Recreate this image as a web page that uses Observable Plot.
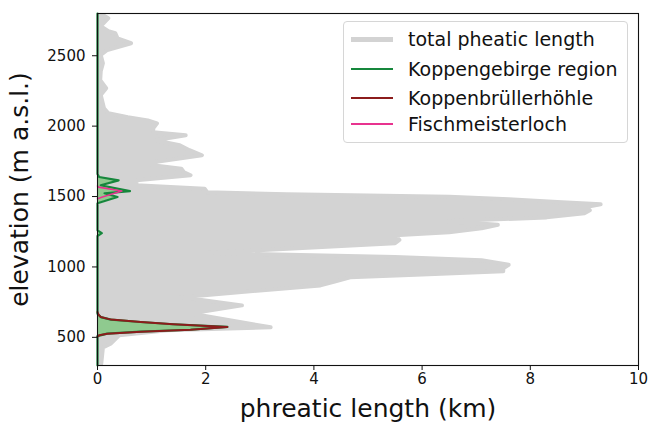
<!DOCTYPE html>
<html><head><meta charset="utf-8">
<script src="https://cdn.jsdelivr.net/npm/d3@7"></script>
<script src="https://cdn.jsdelivr.net/npm/@observablehq/plot@0.6"></script>
<style>
body{margin:0;background:#fff;}
#wrap{position:relative;width:649px;height:423px;font-family:"DejaVu Sans",sans-serif;}
#legend{position:absolute;left:343px;top:21px;width:285px;height:122px;box-sizing:border-box;border:1px solid #d6d6d6;border-radius:4px;background:rgba(255,255,255,0.85);}
.row{position:absolute;left:0;height:28px;display:flex;align-items:center;font-size:19px;color:#111;white-space:nowrap;}
.sw{display:inline-block;width:42px;margin-left:7px;margin-right:15px;}
</style>
</head><body>
<div id="wrap"><div id="chart"></div><div id="legend"></div></div>
<script>
// total pheatic length profile
const elevation = [2800, 2767, 2710, 2674, 2660, 2624, 2589, 2541, 2506, 2447, 2390, 2326, 2269, 2221, 2127, 2091, 2063, 2040, 2020, 1985, 1957, 1935, 1900, 1864, 1829, 1793, 1745, 1722, 1698, 1672, 1651, 1615, 1580, 1556, 1530, 1516, 1498, 1480, 1462, 1445, 1424, 1402, 1381, 1352, 1324, 1299, 1274, 1246, 1225, 1192, 1168, 1100, 1070, 1047, 1015, 990, 969, 947, 926, 898, 869, 785, 727, 670, 571, 550, 514, 457, 428, 315, 300];
const totalLength = [0.05, 0.2, 0.06, 0.2, 0.33, 0.37, 0.62, 0.18, 0.06, 0.1, 0.06, 0.05, 0.16, 0.06, 0.12, 0.2, 0.56, 0.93, 1.1, 1.03, 1.03, 1.63, 1.06, 1.52, 1.7, 1.93, 1.06, 1.02, 1.55, 1.6, 1.72, 0.72, 0.72, 1.98, 2.03, 3.5, 6.5, 7.6, 8.5, 9.3, 9.0, 9.1, 9.0, 8.3, 6.45, 7.4, 7.1, 6.5, 5.5, 5.58, 5.5, 2.05, 5.5, 7.1, 7.6, 7.5, 7.5, 6.0, 4.67, 4.4, 4.12, 1.55, 2.67, 1.72, 3.2, 1.3, 0.4, 0.25, 0.1, 0.07, 0.06];
// Koppengebirge region
const koppElevation = [2800, 1660, 1639, 1615, 1580, 1539, 1523, 1497, 1452, 1260, 1240, 1220, 680, 668, 644, 626, 609, 593, 574, 554, 540, 526, 509, 300];
const koppLength = [0, 0, 0.03, 0.39, 0.06, 0.6, 0.13, 0.37, 0, 0, 0.08, 0, 0, 0, 0.06, 0.25, 0.8, 1.4, 2.4, 1.72, 0.8, 0.18, 0, 0];
// Koppenbrüllerhöhle
const bruellElevation = [680, 668, 656, 644, 626, 609, 593, 574, 554, 540, 526, 515, 505];
const bruellLength = [0, 0.01, 0.03, 0.06, 0.25, 0.8, 1.4, 2.4, 1.72, 0.8, 0.18, 0.03, 0];
// Fischmeisterloch
const fischElevation = [1575, 1567, 1539, 1497, 1485];
const fischLength = [0, 0.02, 0.45, 0.09, 0];

const xTicks = [0, 2, 4, 6, 8, 10];
const yTicks = [500, 1000, 1500, 2000, 2500];
const seriesNames = ["total pheatic length", "Koppengebirge region", "Koppenbrüllerhöhle", "Fischmeisterloch"];
const seriesColors = ["#d3d3d3", "#16873c", "#8c1c1c", "#e8338f"];
const seriesWidths = [5, 2.4, 2, 1.6];
const xLabel = "phreatic length (km)";
const yLabel = "elevation (m a.s.l.)";

const zip = (es, ls) => es.map((e, i) => ({e, L: ls[i]}));
const total = zip(elevation, totalLength);
const kopp = zip(koppElevation, koppLength);
const bruell = zip(bruellElevation, bruellLength);
const fisch = zip(fischElevation, fischLength);

const chart = Plot.plot({
  width: 649, height: 423,
  marginLeft: 97, marginRight: 11, marginTop: 13, marginBottom: 58,
  style: {fontFamily: "DejaVu Sans", fontSize: "15px", color: "#111", background: "white"},
  x: {domain: [0, 10]},
  y: {domain: [300, 2800]},
  marks: [
    Plot.areaX(total, {y: "e", x1: 0, x2: "L", fill: seriesColors[0], clip: true}),
    Plot.line(total, {x: "L", y: "e", stroke: seriesColors[0], strokeWidth: 4, clip: true}),
    Plot.areaX(kopp, {y: "e", x1: 0, x2: "L", fill: "#8fca8f", clip: true}),
    Plot.line(kopp, {x: "L", y: "e", stroke: seriesColors[1], strokeWidth: 2.2}),
    Plot.line(bruell, {x: "L", y: "e", stroke: seriesColors[2], strokeWidth: 2}),
    Plot.line(fisch, {x: "L", y: "e", stroke: seriesColors[3], strokeWidth: 1.6}),
    Plot.frame({stroke: "#111", strokeWidth: 1.1}),
    Plot.axisX({ticks: xTicks, tickSize: 5, tickPadding: 3, label: null, tickFormat: d3.format("d")}),
    Plot.axisY({ticks: yTicks, tickSize: 5, tickPadding: 7, label: null, tickFormat: d3.format("d")}),
    Plot.text([xLabel], {frameAnchor: "bottom", dy: 43, fontSize: 25, text: d => d, lineAnchor: "middle", textAnchor: "middle"}),
    Plot.text([yLabel], {frameAnchor: "left", dx: -78, rotate: -90, fontSize: 25, text: d => d, lineAnchor: "middle", textAnchor: "middle"})
  ]
});
document.getElementById("chart").appendChild(chart);

const legend = document.getElementById("legend");
const rowTops = [3, 33, 62, 88];
seriesNames.forEach((name, i) => {
  const row = document.createElement("div");
  row.className = "row";
  row.style.top = rowTops[i] + "px";
  const sw = document.createElement("span");
  sw.className = "sw";
  sw.style.height = seriesWidths[i] + "px";
  sw.style.background = seriesColors[i];
  row.appendChild(sw);
  row.appendChild(document.createTextNode(name));
  legend.appendChild(row);
});
</script>
</body></html>
